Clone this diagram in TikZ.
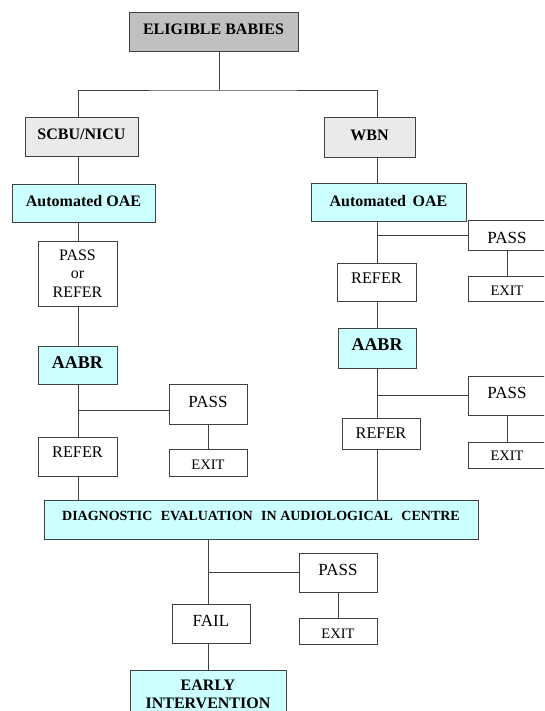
\documentclass[tikz,border=0pt]{standalone}
\usepackage{fontspec}
\setmainfont{Liberation Serif}
\definecolor{cyanbox}{HTML}{CCFFFF}
\definecolor{graybox}{HTML}{C0C0C0}
\definecolor{lightbox}{HTML}{EAEAEA}
\definecolor{linecol}{HTML}{404040}
\begin{document}
\begin{tikzpicture}[x=1pt,y=-1pt,
  box/.style={draw=linecol, line width=0.9pt, rectangle, inner sep=0pt, outer sep=0pt, align=center, text=black},
  conn/.style={draw=linecol, line width=0.9pt},
  bb/.style n args={4}{minimum width={#2-#1}, minimum height={#4-#3}, at={({(#1+#2)/2},{(#3+#4)/2})}},
  hb/.style={font=\bfseries\fontsize{16}{18.5}\selectfont},
  rt/.style={font=\fontsize{17}{18.5}\selectfont},
  rf/.style={font=\fontsize{16.3}{18.5}\selectfont},
  ex/.style={font=\fontsize{14.5}{16}\selectfont}]
\useasboundingbox (0,0) rectangle (544,711);
\clip (0,0) rectangle (544,711);
% top
\node[box, fill=graybox, hb, text depth=5.4pt, bb={129}{298}{12}{51}] (eligible) {ELIGIBLE BABIES};
\node[box, fill=lightbox, hb, text depth=4pt, bb={25}{138}{117}{156}] (scbu) {SCBU/NICU};
\node[box, fill=lightbox, hb, text depth=4pt, bb={324}{415}{117}{157}] (wbn) {WBN};
% left column
\node[box, fill=cyanbox, hb, text depth=5pt, bb={12}{155}{184}{222}] (oaeL) {Automated OAE};
\node[box, fill=white, font=\fontsize{16}{18.5}\selectfont, bb={38}{117}{241}{306}] (porr) {PASS\\or\\REFER};
\node[box, fill=cyanbox, font=\bfseries\fontsize{18}{20}\selectfont, text depth=4.6pt, bb={38}{117}{346}{384}] (aabrL) {AABR};
\node[box, fill=white, rt, text depth=4pt, bb={169}{247}{384}{424}] (passL) {PASS};
\node[box, fill=white, ex, text height=13.5pt, bb={169}{247}{449}{476}] (exitL) {EXIT};
\node[box, fill=white, rf, text depth=8.4pt, bb={38}{117}{437}{476}] (referL) {REFER};
% right column
\node[box, fill=cyanbox, hb, text depth=3pt, bb={311}{466}{183}{221}] (oaeR) {Automated\ \,OAE};
\node[box, fill=white, rt, text height=16.5pt, bb={468}{546}{220}{250}] (passR1) {PASS};
\node[box, fill=white, ex, text height=12.7pt, bb={468}{546}{276}{301.5}] (exitR1) {EXIT};
\node[box, fill=white, rf, text depth=7.2pt, bb={337}{416}{263}{301}] (referR1) {REFER};
\node[box, fill=cyanbox, font=\bfseries\fontsize{18}{20}\selectfont, text depth=6.6pt, bb={338}{416}{328}{368}] (aabrR) {AABR};
\node[box, fill=white, rt, text depth=5.4pt, bb={468}{546}{376}{415}] (passR2) {PASS};
\node[box, fill=white, ex, text height=11.9pt, bb={468}{546}{442}{468}] (exitR2) {EXIT};
\node[box, fill=white, rf, bb={342}{420}{418}{449}] (referR2) {REFER};
% bottom
\node[box, fill=cyanbox, font=\bfseries\fontsize{14}{15.5}\selectfont, text depth=8pt, bb={44}{478}{500.5}{539}] (diag) {DIAGNOSTIC\hspace{0.6em}EVALUATION\hspace{0.6em}IN AUDIOLOGICAL\hspace{0.6em}CENTRE};
\node[box, fill=white, rt, text depth=5pt, bb={299}{377}{553}{592.5}] (passB) {PASS};
\node[box, fill=white, ex, text height=14.5pt, bb={299}{377}{618}{644}] (exitB) {EXIT};
\node[box, fill=white, rt, text depth=5pt, bb={172}{250}{604}{643}] (fail) {FAIL};
\node[box, fill=cyanbox, font=\bfseries\fontsize{16}{18}\selectfont, text depth=4pt, bb={130}{286}{670.5}{722}] (early) {EARLY\\INTERVENTION};
% helper coordinates
\coordinate (jt) at (219,90);
\coordinate (xl) at (78,0);
\coordinate (xr) at (377,0);
\coordinate (xm) at (208,0);
\coordinate (bL) at (78,410);
% connectors
\draw[conn] (eligible.south -| jt) -- (jt);
\draw[conn] (scbu.north -| xl) |- (jt) -| (wbn.north -| xr);
\draw[conn] (scbu.south -| xl) -- (oaeL.north -| xl);
\draw[conn] (oaeL.south -| xl) -- (porr.north -| xl);
\draw[conn] (porr.south -| xl) -- (aabrL.north -| xl);
\draw[conn] (aabrL.south -| xl) -- (referL.north -| xl);
\draw[conn] (bL) -- (bL -| passL.west);
\draw[conn] (passL.south) -- (exitL.north);
\draw[conn] (referL.south -| xl) -- (diag.north -| xl);
\draw[conn] (wbn.south -| xr) -- (oaeR.north -| xr);
\draw[conn] (oaeR.south -| xr) -- (referR1.north -| xr);
\draw[conn] (passR1.west -| xr) -- (passR1.west);
\draw[conn] (passR1.south) -- (exitR1.north);
\draw[conn] (referR1.south -| xr) -- (aabrR.north -| xr);
\draw[conn] (aabrR.south -| xr) -- (referR2.north -| xr);
\draw[conn] (passR2.west -| xr) -- (passR2.west);
\draw[conn] (passR2.south) -- (exitR2.north);
\draw[conn] (referR2.south -| xr) -- (diag.north -| xr);
\draw[conn] (diag.south -| xm) -- (fail.north -| xm);
\draw[conn] (passB.west -| xm) -- (passB.west);
\draw[conn] (passB.south) -- (exitB.north);
\draw[conn] (fail.south -| xm) -- (early.north -| xm);
\end{tikzpicture}
\end{document}
